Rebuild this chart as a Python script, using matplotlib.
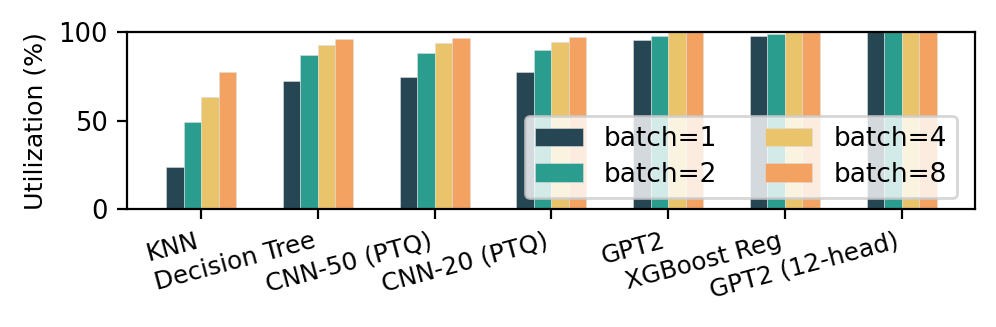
import numpy as np
import matplotlib
matplotlib.use("Agg")
import matplotlib.pyplot as plt

models = ["KNN", "Decision Tree", "CNN-50 (PTQ)", "CNN-20 (PTQ)",
          "GPT2", "XGBoost Reg", "GPT2 (12-head)"]
batch_labels = ["batch=1", "batch=2", "batch=4", "batch=8"]

# utilization (%) per batch size
util_b1 = [24.1, 72.5, 74.5, 77.7, 95.7, 97.7, 100]
util_b2 = [49.0, 87.2, 87.9, 89.8, 98.0, 98.9, 100]
util_b4 = [63.6, 92.9, 93.6, 94.3, 100, 100, 100]
util_b8 = [77.2, 95.9, 96.8, 97.4, 100, 100, 100]

colors = ["#264653", "#2a9d8f", "#e9c46a", "#f4a261"]

fig, ax = plt.subplots(figsize=(4.98, 1.635), dpi=200)

x = np.arange(len(models))
w = 0.15
series = [util_b1, util_b2, util_b4, util_b8]
for i, vals in enumerate(series):
    ax.bar(x + (i - 1.5) * w, vals, w, color=colors[i], label=batch_labels[i],
           edgecolor="#dddddd", linewidth=0.2)

ax.set_ylim(0, 100)
ax.set_yticks([0, 50, 100])
ax.set_ylabel("Utilization (%)", fontsize=9.1)
ax.set_xticks(x)
ax.set_xticklabels(models, rotation=15, ha="right", fontsize=8.9)
ax.tick_params(axis="y", labelsize=9.3)

ax.legend(ncol=2, fontsize=9.5, loc="lower right", bbox_to_anchor=(0.979, 0.062),
          borderaxespad=0, labelspacing=0.35, handlelength=1.8,
          handletextpad=0.8, columnspacing=1.8, framealpha=0.8)

fig.subplots_adjust(left=0.128, right=0.979, top=0.902, bottom=0.36)
fig.savefig("out.png", dpi=200)
